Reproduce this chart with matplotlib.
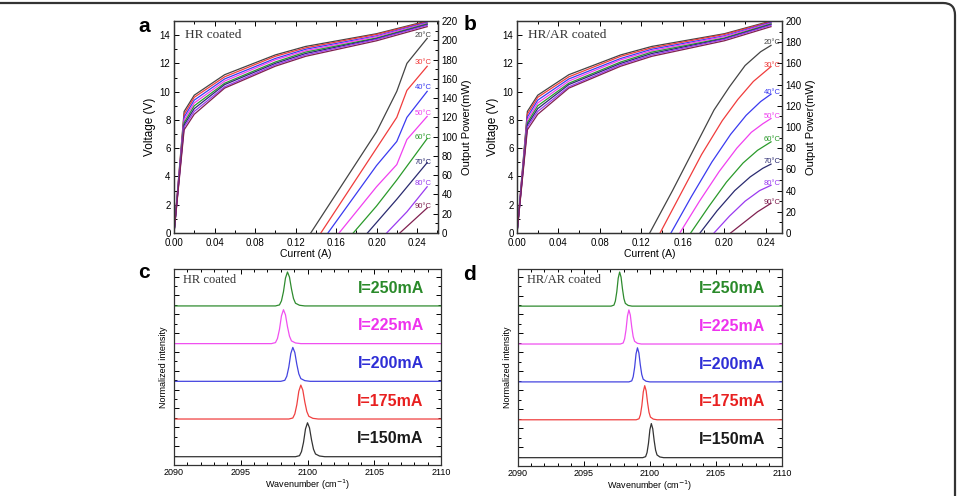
"""Laser diode L-I-V curves (a, b) and lasing spectra (c, d), HR vs HR/AR coated."""

import matplotlib
matplotlib.use("Agg")
import matplotlib.pyplot as plt
from matplotlib.patches import FancyBboxPatch
from matplotlib.ticker import MultipleLocator

plt.rcParams["font.family"] = ["Liberation Sans", "DejaVu Sans"]

# ---------------------------------------------------------------------------
# Data
# ---------------------------------------------------------------------------
TEMPS = ["20°C", "30°C", "40°C", "50°C", "60°C", "70°C", "80°C", "90°C"]
T_COLORS = ["#444444", "#f03c3c", "#3a3af0", "#f040f0",
            "#2a9a2a", "#2a2a70", "#9a3af0", "#802050"]

# voltage vs current (same sampled currents for every temperature)
IV_CURRENT_A = [0, 0.01, 0.02, 0.05, 0.10, 0.13, 0.20, 0.25]
IV_CURRENT_B = [0, 0.01, 0.02, 0.05, 0.10, 0.13, 0.20, 0.245]
VOLT = [
    [0, 8.6, 9.75, 11.2, 12.6, 13.2, 14.1, 15.0],
    [0, 8.4, 9.6, 11.05, 12.5, 13.1, 14.05, 14.95],
    [0, 8.2, 9.4, 10.9, 12.35, 13.0, 13.95, 14.9],
    [0, 8.0, 9.2, 10.75, 12.25, 12.9, 13.9, 14.85],
    [0, 7.8, 9.0, 10.6, 12.1, 12.8, 13.8, 14.8],
    [0, 7.65, 8.8, 10.5, 12.0, 12.7, 13.75, 14.75],
    [0, 7.5, 8.6, 10.35, 11.9, 12.6, 13.7, 14.7],
    [0, 7.3, 8.4, 10.25, 11.8, 12.5, 13.6, 14.6],
]

# output power vs current, HR coated (panel a)
LI_I_A = [
    [0.135, 0.20, 0.22, 0.23, 0.25],
    [0.145, 0.20, 0.22, 0.23, 0.25],
    [0.152, 0.20, 0.22, 0.23, 0.25],
    [0.163, 0.20, 0.22, 0.23, 0.25],
    [0.177, 0.20, 0.22, 0.25],
    [0.191, 0.22, 0.25],
    [0.210, 0.23, 0.25],
    [0.223, 0.25],
]
LI_P_A = [
    [0, 105, 147, 176, 202],
    [0, 88, 120, 148, 173],
    [0, 70, 95, 120, 147],
    [0, 48, 71, 97, 121],
    [0, 28, 55, 98],
    [0, 35, 73],
    [0, 22, 48],
    [0, 26],
]

# output power vs current, HR/AR coated (panel b)
LI_I_B = [
    [0.128, 0.150, 0.170, 0.190, 0.205, 0.220, 0.235, 0.245],
    [0.138, 0.158, 0.178, 0.198, 0.213, 0.228, 0.245],
    [0.1485, 0.168, 0.188, 0.206, 0.221, 0.235, 0.245],
    [0.157, 0.176, 0.195, 0.212, 0.226, 0.237, 0.245],
    [0.1675, 0.185, 0.202, 0.218, 0.232, 0.245],
    [0.1765, 0.193, 0.210, 0.225, 0.237, 0.245],
    [0.190, 0.205, 0.220, 0.234, 0.245],
    [0.206, 0.219, 0.232, 0.245],
]
LI_P_B = [
    [0, 40, 78, 116, 138, 158, 171, 177],
    [0, 37, 74, 106, 126, 143, 157],
    [0, 34, 67, 93, 111, 124, 131],
    [0, 30, 58, 80, 95, 103, 108],
    [0, 25, 48, 66, 78, 86],
    [0, 21, 40, 53, 61, 65],
    [0, 16, 30, 40, 45],
    [0, 10, 20, 28],
]

# temperature tag positions (mW on the right axis)
TAG_P_A = [205, 177, 151, 124, 99, 73, 51, 27]
TAG_P_B = [180, 158, 133, 110, 88, 67, 47, 29]

# spectra: bottom to top
CURRENTS = ["I=150mA", "I=175mA", "I=200mA", "I=225mA", "I=250mA"]
S_COLORS = ["#333333", "#f04040", "#4444e0", "#f050f0", "#2e8b2e"]
TXT_COLORS = ["#1a1a1a", "#e82020", "#2e2ed6", "#ee33ee", "#2a8a2a"]
PEAK_C = [2100.0, 2099.5, 2098.9, 2098.2, 2098.5]
PEAK_D = [2100.1, 2099.6, 2099.05, 2098.4, 2097.7]
# one normalised line profile (offset in cm^-1, height)
PROFILE_DX = [-0.9, -0.6, -0.45, -0.3, -0.15, 0, 0.15, 0.3, 0.45, 0.6, 0.9, 1.3]
PROFILE_Y = [0, 0.03, 0.15, 0.42, 0.82, 1.0, 0.85, 0.5, 0.22, 0.08, 0.02, 0]

W, H = 959, 496
fig = plt.figure(figsize=(W / 100, H / 100), dpi=100)


def px_axes(left, top, right, bottom):
    return fig.add_axes([left / W, 1 - bottom / H, (right - left) / W, (bottom - top) / H])


def style(ax):
    ax.tick_params(which="both", direction="in", top=True, labelsize=7, width=0.7, pad=2.5)
    ax.tick_params(axis="x", pad=3.5)
    ax.tick_params(which="major", length=3.5)
    ax.tick_params(which="minor", length=2)
    for s in ax.spines.values():
        s.set_linewidth(0.9)
        s.set_color("#333333")


def liv_panel(ax, cur, li_i, li_p, tags, pmax, xmax, title):
    style(ax)
    for v, c in zip(VOLT, T_COLORS):
        ax.plot(cur, v, color=c, lw=0.9)
    ax.set_xlim(0, xmax)
    ax.set_ylim(0, 15)
    ax.xaxis.set_major_locator(MultipleLocator(0.04))
    ax.xaxis.set_minor_locator(MultipleLocator(0.02))
    ax.yaxis.set_major_locator(MultipleLocator(2))
    ax.yaxis.set_minor_locator(MultipleLocator(1))
    ax.xaxis.set_major_formatter(lambda x, p: f"{x:.2f}")
    ax.set_xlabel("Current (A)", fontsize=7.5, labelpad=0.5)
    ax.set_ylabel("Voltage (V)", fontsize=8.5, labelpad=3)
    ax.text(0.04, 0.935, title, transform=ax.transAxes, fontsize=9.5,
            family="Liberation Serif", va="center", color="#333333")

    ax2 = ax.twinx()
    style(ax2)
    ax2.tick_params(which="both", direction="in", right=True)
    for i, p, c in zip(li_i, li_p, T_COLORS):
        ax2.plot(i, p, color=c, lw=0.9)
    for t, p, c in zip(TEMPS, tags, T_COLORS):
        ax2.text(0.246, p, t, fontsize=5.5, color=c, ha="center", va="center")
    ax2.set_ylim(0, pmax)
    ax2.yaxis.set_major_locator(MultipleLocator(20))
    ax2.yaxis.set_minor_locator(MultipleLocator(10))
    ax2.set_ylabel("Output Power(mW)", fontsize=8, labelpad=3)
    return ax2


def spectra_panel(ax, peaks, scale, title):
    style(ax)
    ax.tick_params(which="both", right=True, labelleft=False)
    ax.tick_params(axis="x", labelsize=6.5, pad=2)
    for k, (x0, c, tc, lab) in enumerate(zip(peaks, S_COLORS, TXT_COLORS, CURRENTS)):
        base = 0.22 + k * 1.0
        xs = [2090] + [x0 + d * scale for d in PROFILE_DX] + [2110]
        ys = [base] + [base + 0.9 * y for y in PROFILE_Y] + [base]
        ax.plot(xs, ys, color=c, lw=0.9)
        ax.text(2108.7, base + 0.47, lab, color=tc, fontsize=11.5,
                fontweight="bold", ha="right", va="center")
    ax.set_xlim(2090, 2110)
    ax.set_ylim(0, 5.2)
    ax.xaxis.set_major_locator(MultipleLocator(5))
    ax.xaxis.set_minor_locator(MultipleLocator(1))
    ax.yaxis.set_major_locator(MultipleLocator(0.5))
    ax.yaxis.set_minor_locator(MultipleLocator(0.25))
    ax.set_xlabel("Wavenumber (cm$^{-1}$)", fontsize=6.5, labelpad=0.5)
    ax.set_ylabel("Normalized intensity", fontsize=6.5, labelpad=4)
    ax.text(0.035, 0.945, title, transform=ax.transAxes, fontsize=9,
            family="Liberation Serif", va="center", color="#333333")


ax_a = px_axes(174, 21, 438, 233)
liv_panel(ax_a, IV_CURRENT_A, LI_I_A, LI_P_A, TAG_P_A, 220, 0.2607, "HR coated")
ax_b = px_axes(517, 21, 782, 233)
liv_panel(ax_b, IV_CURRENT_B, LI_I_B, LI_P_B, TAG_P_B, 200, 0.2556, "HR/AR coated")
ax_c = px_axes(174, 269, 441, 465)
spectra_panel(ax_c, PEAK_C, 1.0, "HR coated")
ax_d = px_axes(518, 269, 782, 466)
spectra_panel(ax_d, PEAK_D, 0.72, "HR/AR coated")

for lab, x, y in [("a", 144, 27), ("b", 470, 24), ("c", 144, 272), ("d", 470, 275)]:
    fig.text(x / W, 1 - y / H, lab, fontsize=15, fontweight="bold",
             ha="center", va="center")

# journal-style frame (top and right edge, rounded corner)
frame = FancyBboxPatch((-30, -30), 30 + 955, 30 + 493,
                       boxstyle="round,pad=0,rounding_size=12",
                       transform=None, fill=False, lw=1.6, ec="#333333")
fig.add_artist(frame)

fig.savefig("out.png", dpi=100)
